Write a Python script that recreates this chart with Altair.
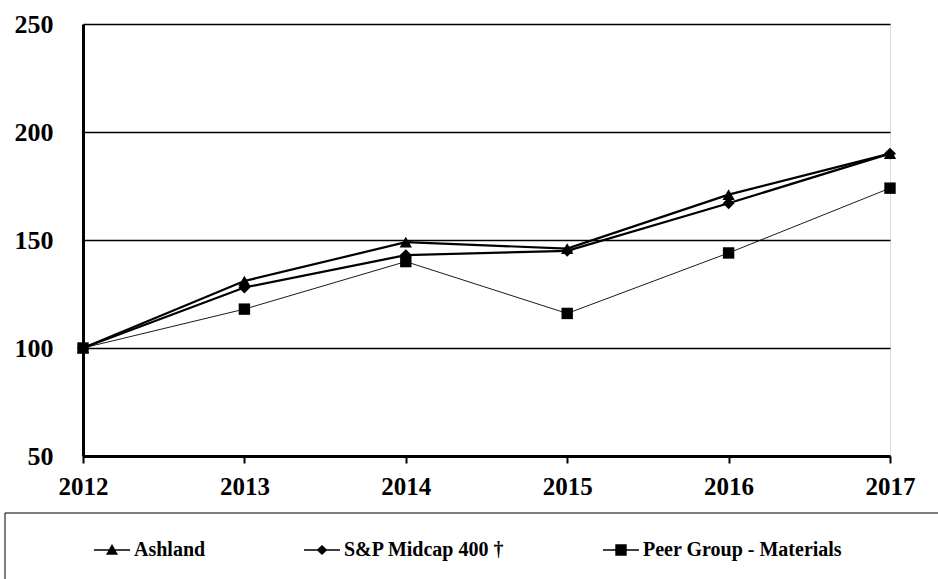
import altair as alt
import pandas as pd

years = [2012, 2013, 2014, 2015, 2016, 2017]
series_names = ["Ashland", "S&P Midcap 400 †", "Peer Group - Materials"]
ashland = [100, 131, 149, 146, 171, 190]
sp_midcap = [100, 128, 143, 145, 167, 190]
peer_group = [100, 118, 140, 116, 144, 174]

rows = []
for name, vals in zip(series_names, [ashland, sp_midcap, peer_group]):
    for y, v in zip(years, vals):
        rows.append({"year": y, "value": v, "series": name})
df = pd.DataFrame(rows)

FONT = "Liberation Serif"

x_enc = alt.X("year:Q", scale=alt.Scale(domain=[2012, 2017], nice=False, zero=False),
              axis=alt.Axis(values=years, format="d", title=None, grid=False,
                            domainColor="black", domainWidth=3,
                            tickColor="black", tickWidth=2, tickSize=7,
                            labelFont=FONT, labelFontWeight="bold", labelFontSize=25,
                            labelColor="black", labelPadding=11, labelFlush=False))
y_enc = alt.Y("value:Q", scale=alt.Scale(domain=[50, 250], nice=False, zero=False),
              axis=alt.Axis(values=[50, 100, 150, 200, 250], title=None,
                            grid=True, gridColor="black", gridWidth=1.5,
                            domainColor="black", domainWidth=3, ticks=False,
                            labelFont=FONT, labelFontWeight="bold", labelFontSize=26,
                            labelColor="black", labelPadding=30))

thick_lines = alt.Chart(df).transform_filter(
    alt.FieldOneOfPredicate(field="series", oneOf=series_names[:2])
).mark_line(color="black", strokeWidth=2.2).encode(
    x=x_enc, y=y_enc, detail="series:N",
)

thin_line = alt.Chart(df).transform_filter(
    alt.FieldEqualPredicate(field="series", equal=series_names[2])
).mark_line(color="black", strokeWidth=0.9).encode(
    x="year:Q", y="value:Q", detail="series:N",
)

points = alt.Chart(df).mark_point(filled=True, color="black", opacity=1).encode(
    x="year:Q", y="value:Q",
    shape=alt.Shape("series:N", scale=alt.Scale(domain=series_names, range=["triangle-up", "diamond", "square"]), legend=None),
    size=alt.Size("series:N", scale=alt.Scale(domain=series_names, range=[150, 130, 200]), legend=None),
)

legend_paths = [
    "M-3,-0.13H3V0.13H-3ZM0,-1L1,0.8L-1,0.8Z",
    "M-3,-0.13H3V0.13H-3ZM0,-0.85L0.9,0L0,0.85L-0.9,0Z",
    "M-3,-0.11H3V0.11H-3ZM-0.95,-0.95H0.95V0.95H-0.95Z",
]

legend_layer = alt.Chart(df).mark_point(filled=True, color="black", opacity=1).encode(
    x="year:Q", y="value:Q",
    shape=alt.Shape("series:N",
                    scale=alt.Scale(domain=series_names, range=legend_paths),
                    legend=alt.Legend(title=None, orient="none", legendX=19, legendY=516,
                                      direction="horizontal", columns=3, columnPadding=95,
                                      symbolSize=144, symbolFillColor="black",
                                      symbolOpacity=1,
                                      labelFont=FONT, labelFontWeight="bold", labelFontSize=20,
                                      labelColor="black", labelOffset=12, labelLimit=400)),
).transform_filter("false")

box = alt.Chart(pd.DataFrame({"a": [0]})).mark_rect(fill=None, stroke="black", strokeWidth=1, clip=False).encode(
    x=alt.value(-78), x2=alt.value(900), y=alt.value(489), y2=alt.value(620)
)

chart = alt.layer(box, thin_line, thick_lines, points, legend_layer).resolve_scale(shape="independent").properties(
    width=807, height=432,
    autosize=alt.AutoSizeParams(type="none"),
    padding={"left": 83, "top": 24, "right": 48, "bottom": 123},
).configure_view(stroke="black", strokeWidth=2.5).configure(background="white")

chart.save("out.html", embed_options={"renderer": "svg", "actions": False})
